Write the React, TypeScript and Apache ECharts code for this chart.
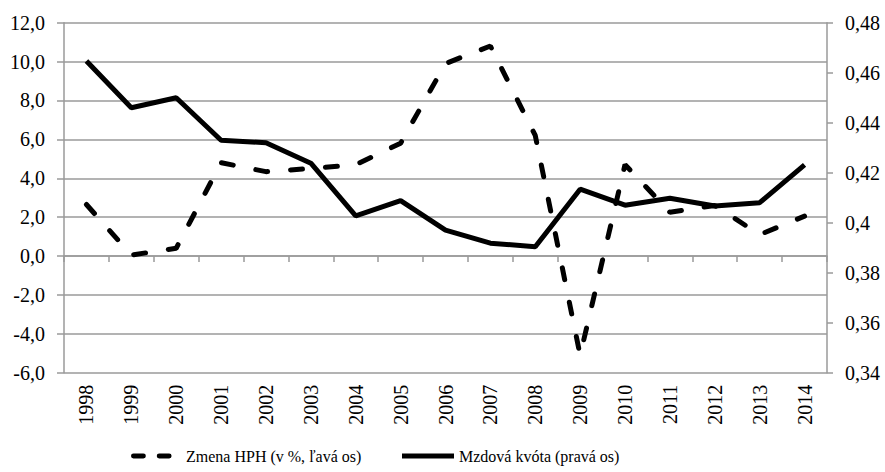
import React, { useEffect, useRef } from "react";
import * as echarts from "echarts";

const years = ["1998","1999","2000","2001","2002","2003","2004","2005","2006","2007","2008","2009","2010","2011","2012","2013","2014"];
const hphChange = [2.65, 0.05, 0.4, 4.8, 4.34, 4.5, 4.7, 5.8, 9.9, 10.8, 6.2, -5.1, 4.7, 2.25, 2.6, 1.1, 2.05];
const wageShare = [0.4647, 0.446, 0.45, 0.433, 0.432, 0.4238, 0.4027, 0.4088, 0.397, 0.3918, 0.3904, 0.4134, 0.407, 0.4098, 0.4067, 0.408, 0.4231];
const seriesNames = ["Zmena HPH (v %, ľavá os)", "Mzdová kvóta (pravá os)"];

const FONT = "Times New Roman, Liberation Serif, DejaVu Serif, serif";
const GRID = "#9a9a9a";

export default function App() {
  const ref = useRef<HTMLDivElement>(null);
  useEffect(() => {
    if (!ref.current) return;
    const chart = echarts.init(ref.current, undefined, { renderer: "svg" });
    const axisLabel = { fontFamily: FONT, fontSize: 20, color: "#000" };
    const legendText = { fontFamily: FONT, fontSize: 16, color: "#000" };
    chart.setOption({
      animation: false,
      textStyle: { fontFamily: FONT },
      grid: { left: 64, right: 58, top: 22.7, bottom: 99.3 },
      legend: [
        {
          data: [seriesNames[0]],
          left: 131,
          top: 448,
          padding: 0,
          icon: "path://M2,0h10a2,2 0 0 1 0,5h-10a2,2 0 0 1 0,-5z M28,0h10a2,2 0 0 1 0,5h-10a2,2 0 0 1 0,-5z M50,0L50,5",
          itemWidth: 50,
          itemHeight: 5,
          textStyle: legendText,
        },
        {
          data: [seriesNames[1]],
          left: 402,
          top: 448,
          padding: 0,
          icon: "rect",
          itemWidth: 52,
          itemHeight: 5,
          textStyle: legendText,
        },
      ],
      xAxis: [
        {
          type: "category",
          data: years,
          boundaryGap: true,
          position: "bottom",
          axisLine: { show: false, onZero: false },
          axisTick: { show: false },
          axisLabel: { ...axisLabel, rotate: 90, margin: 12, interval: 0 },
        },
        {
          type: "category",
          data: years,
          boundaryGap: true,
          position: "bottom",
          axisLine: { show: true, onZero: true, onZeroAxisIndex: 0, lineStyle: { color: GRID, width: 1.5 } },
          axisTick: { show: true, length: 6, lineStyle: { color: GRID, width: 1.5 } },
          axisLabel: { show: false },
        },
      ],
      yAxis: [
        {
          type: "value",
          min: -6,
          max: 12,
          interval: 2,
          position: "left",
          axisLine: { show: true, lineStyle: { color: GRID, width: 1.5 } },
          axisTick: { show: true, length: 7, lineStyle: { color: GRID, width: 1.5 } },
          splitLine: { show: true, lineStyle: { color: GRID, width: 1.5 } },
          axisLabel: { ...axisLabel, margin: 19, formatter: (v: number) => v.toFixed(1).replace(".", ",") },
        },
        {
          type: "value",
          min: 0.34,
          max: 0.48,
          interval: 0.02,
          position: "right",
          axisLine: { show: true, lineStyle: { color: GRID, width: 1.5 } },
          axisTick: { show: true, length: 6, lineStyle: { color: GRID, width: 1.5 } },
          splitLine: { show: false },
          axisLabel: { ...axisLabel, margin: 18, formatter: (v: number) => String(Number(v.toFixed(2))).replace(".", ",") },
        },
      ],
      series: [
        {
          name: seriesNames[0],
          type: "line",
          xAxisIndex: 0,
          yAxisIndex: 0,
          data: hphChange,
          symbol: "none",
          lineStyle: { color: "#000", width: 5, type: [12, 23], cap: "round" },
          itemStyle: { color: "#000" },
        },
        {
          name: seriesNames[1],
          type: "line",
          xAxisIndex: 0,
          yAxisIndex: 1,
          data: wageShare,
          symbol: "none",
          lineStyle: { color: "#000", width: 5 },
          itemStyle: { color: "#000" },
        },
      ],
    });
    return () => chart.dispose();
  }, []);
  return <div ref={ref} style={{ width: 885, height: 472, position: "absolute", left: 0, top: 0 }} />;
}
